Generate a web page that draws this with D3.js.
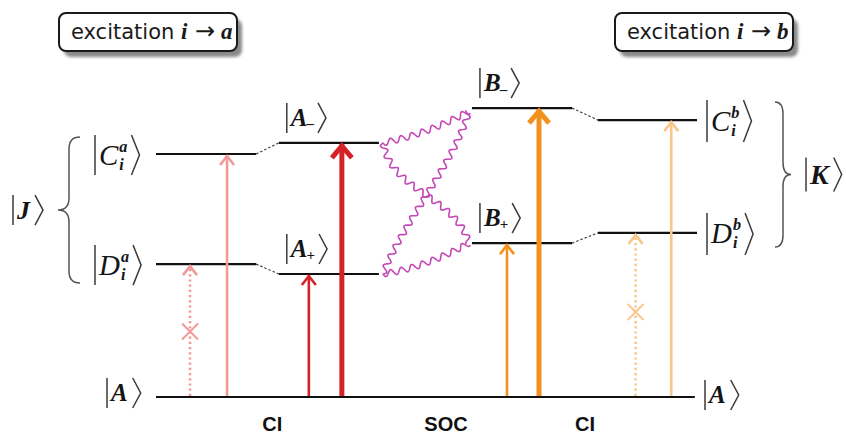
<!DOCTYPE html>
<html>
<head>
<meta charset="utf-8">
<script src="https://cdn.jsdelivr.net/npm/d3@7"></script>
<style>
	body { margin: 0; background: #fff; }
	svg { display: block; }
</style>
</head>
<body>
<div id="chart"></div>
<script>
// states: id, column (-1 = ground, spans everything), energy (arbitrary units)
var levelIds    = ["A", "Cia", "Dia", "Am", "Ap", "Bm", "Bp", "Cib", "Dib"];
var levelColumn = [-1, 0, 0, 1, 1, 2, 2, 3, 3];
var levelEnergy = [0, 81, 44.3, 84.7, 41, 96.3, 51.3, 92.3, 54.7];
var ketLetter   = ["A", "C", "D", "A", "A", "B", "B", "C", "D"];
var ketSup      = ["", "a", "a", "", "", "", "", "b", "b"];
var ketSub      = ["", "i", "i", "\u2013", "+", "\u2013", "+", "i", "i"];

// excitations from the ground state
var arrowTarget = ["Dia", "Cia", "Ap", "Am", "Bp", "Bm", "Dib", "Cib"];
var arrowKind   = ["forbidden", "thin", "thin", "thick", "thin", "thick", "forbidden", "thin"];
var arrowGroup  = ["a", "a", "A", "A", "B", "B", "b", "b"];

// CI mixing (dashed) and SOC coupling (wavy)
var mixPairs = [["Cia", "Am"], ["Dia", "Ap"], ["Bm", "Cib"], ["Bp", "Dib"]];
var socPairs = [["Am", "Bm"], ["Am", "Bp"], ["Ap", "Bm"], ["Ap", "Bp"]];

var processLabels = ["CI", "SOC", "CI"];
var boxTargets = ["a", "b"];

var w = 846,
	h = 436;

var svg = d3.select("#chart")
	.append("svg")
	.attr("width", w)
	.attr("height", h);

var defs = svg.append("defs");
defs.append("filter")
	.attr("id", "shadow")
	.attr("x", "-10%").attr("y", "-20%").attr("width", "130%").attr("height", "160%")
	.append("feGaussianBlur")
	.attr("stdDeviation", 1.8);

var x = d3.scaleLinear().domain([0, 100]).range([156, 697]);
var y = d3.scaleLinear().domain([0, 100]).range([397, 97]);

var colSpan = [[0, 18.5], [22.7, 41.2], [58.4, 76.9], [81.7, 100]];
var slotFrac = [[0.34, 0.71], [0.30, 0.63], [0.35, 0.67], [0.38, 0.74]];

var colors = { a: "#f29a9a", A: "#d42328", B: "#f3911f", b: "#f9c78e" };
var serif = "'Liberation Serif', 'Times New Roman', serif";
var sans = "'DejaVu Sans', Verdana, sans-serif";

var levels = levelIds.map(function(id, i) {
	var c = levelColumn[i];
	return {
		id: id,
		col: c,
		x0: c < 0 ? x(0) : x(colSpan[c][0]),
		x1: c < 0 ? x(99.6) : x(colSpan[c][1]),
		y: y(levelEnergy[i]),
		letter: ketLetter[i],
		sup: ketSup[i],
		sub: ketSub[i]
	};
});
var byId = {};
levels.forEach(function(d) { byId[d.id] = d; });

// ---- header boxes ----
var boxX = [59, 615];
boxTargets.forEach(function(t, i) {
	var g = svg.append("g").attr("transform", "translate(" + boxX[i] + ",13)");
	g.append("rect")
		.attr("x", 5).attr("y", 6)
		.attr("width", 178).attr("height", 38).attr("rx", 7)
		.attr("fill", "#8a8a8a")
		.attr("filter", "url(#shadow)");
	g.append("rect")
		.attr("width", 178).attr("height", 38).attr("rx", 7)
		.attr("fill", "#fff")
		.attr("stroke", "#1a1a1a")
		.attr("stroke-width", 2);
	var txt = g.append("text")
		.attr("x", 12).attr("y", 26)
		.attr("fill", "#1a1a1a");
	txt.append("tspan").attr("font-family", sans).attr("font-size", 21).text("excitation ");
	txt.append("tspan").attr("font-family", serif).attr("font-size", 23)
		.attr("font-style", "italic").attr("font-weight", "bold").text("i");
	txt.append("tspan").attr("font-family", sans).attr("font-size", 24).text(" \u2192");
	txt.append("tspan").attr("font-family", serif).attr("font-size", 23)
		.attr("font-style", "italic").attr("font-weight", "bold").text(" " + t);
});

// ---- mixing connectors ----
svg.append("g")
	.selectAll("line")
	.data(mixPairs)
	.enter()
	.append("line")
	.attr("x1", function(d) { return byId[d[0]].x1; })
	.attr("y1", function(d) { return byId[d[0]].y; })
	.attr("x2", function(d) { return byId[d[1]].x0; })
	.attr("y2", function(d) { return byId[d[1]].y; })
	.attr("stroke", "#444")
	.attr("stroke-width", 1.2)
	.attr("stroke-dasharray", "2.5,2");

// ---- SOC wavy lines ----
function wavyPath(pts, amp, wl) {
	// pts: bezier control points (3 = quadratic, 4 = cubic)
	var n = 240, raw = [];
	for (var k = 0; k <= n; k++) {
		var t = k / n, u = 1 - t, px, py;
		if (pts.length === 3) {
			px = u*u*pts[0][0] + 2*u*t*pts[1][0] + t*t*pts[2][0];
			py = u*u*pts[0][1] + 2*u*t*pts[1][1] + t*t*pts[2][1];
		} else {
			px = u*u*u*pts[0][0] + 3*u*u*t*pts[1][0] + 3*u*t*t*pts[2][0] + t*t*t*pts[3][0];
			py = u*u*u*pts[0][1] + 3*u*u*t*pts[1][1] + 3*u*t*t*pts[2][1] + t*t*t*pts[3][1];
		}
		raw.push([px, py]);
	}
	var s = 0, out = [];
	for (var k = 0; k <= n; k++) {
		var a = raw[Math.max(0, k - 1)], b = raw[Math.min(n, k + 1)];
		if (k > 0) s += Math.hypot(raw[k][0] - raw[k-1][0], raw[k][1] - raw[k-1][1]);
		var dx = b[0] - a[0], dy = b[1] - a[1], len = Math.hypot(dx, dy) || 1;
		var off = amp * Math.sin(2 * Math.PI * s / wl);
		out.push([raw[k][0] - dy / len * off, raw[k][1] + dx / len * off]);
	}
	return d3.line()(out);
}

var socG = svg.append("g");
socPairs.forEach(function(p) {
	var a = byId[p[0]], b = byId[p[1]];
	var p0 = [a.x1 + 4, a.y], p3 = [b.x0 - 3, b.y + (b.id === "Bm" ? 3 : 0)];
	var pts;
	if (p[0] === "Am" && p[1] === "Bm") pts = [p0, [428, 134], p3];
	else if (p[0] === "Ap" && p[1] === "Bp") pts = [p0, [424, 268], p3];
	else if (p[0] === "Am") pts = [p0, [392, 192], [455, 196], p3];
	else pts = [p0, [402, 224], [455, 162], p3];
	socG.append("path")
		.attr("d", wavyPath(pts, 3, 11))
		.attr("fill", "none")
		.attr("stroke", "#c447b5")
		.attr("stroke-width", 1.6);
});

// ---- level lines ----
svg.append("g")
	.selectAll("line")
	.data(levels)
	.enter()
	.append("line")
	.attr("x1", function(d) { return d.x0; })
	.attr("x2", function(d) { return d.x1; })
	.attr("y1", function(d) { return d.y; })
	.attr("y2", function(d) { return d.y; })
	.attr("stroke", "#111")
	.attr("stroke-width", 2.2);

// ---- excitation arrows ----
var slotCount = [0, 0, 0, 0];
var arrows = arrowTarget.map(function(t, i) {
	var lv = byId[t];
	var slot = slotCount[lv.col]++;
	var span = colSpan[lv.col];
	var xu = span[0] + (span[1] - span[0]) * slotFrac[lv.col][slot];
	return { x: x(xu), tip: lv.y, kind: arrowKind[i], color: colors[arrowGroup[i]] };
});

var arrowG = svg.append("g").selectAll("g")
	.data(arrows)
	.enter()
	.append("g");

arrowG.append("line")
	.attr("x1", function(d) { return d.x; })
	.attr("x2", function(d) { return d.x; })
	.attr("y1", y(0) - 1)
	.attr("y2", function(d) { return d.tip + (d.kind === "forbidden" ? 4 : 1); })
	.attr("stroke", function(d) { return d.color; })
	.attr("stroke-width", function(d) { return d.kind === "thick" ? 5 : 2.6; })
	.attr("stroke-dasharray", function(d) { return d.kind === "forbidden" ? "2.2,3" : null; });

arrowG.append("path")
	.attr("d", function(d) {
		var hw = d.kind === "thick" ? 10 : 7,
			hh = d.kind === "thick" ? 12 : 9,
			t = d.tip + (d.kind === "thick" ? 3 : 2);
		return "M" + (d.x - hw) + "," + (t + hh) + "L" + d.x + "," + t + "L" + (d.x + hw) + "," + (t + hh);
	})
	.attr("fill", "none")
	.attr("stroke", function(d) { return d.color; })
	.attr("stroke-width", function(d) { return d.kind === "thick" ? 5 : 2.6; })
	.attr("stroke-linejoin", "miter");

// crosses on the forbidden transitions
arrowG.filter(function(d) { return d.kind === "forbidden"; })
	.append("path")
	.attr("d", function(d) {
		var cy = (y(0) + d.tip) / 2 + (d.tip > 250 ? 1 : -3), r = 8;
		return "M" + (d.x - r) + "," + (cy - r) + "L" + (d.x + r) + "," + (cy + r) +
			"M" + (d.x + r) + "," + (cy - r) + "L" + (d.x - r) + "," + (cy + r);
	})
	.attr("stroke", function(d) { return d.color; })
	.attr("stroke-width", 2);

// ---- ket labels ----
function ket(g, bx, cy, hgt, letter, sup, sub, opt) {
	opt = opt || {};
	var size = opt.size || 24;
	var kg = g.append("g");
	kg.append("line")
		.attr("x1", bx).attr("x2", bx)
		.attr("y1", cy - hgt / 2).attr("y2", cy + hgt / 2)
		.attr("stroke", "#3a3a3a").attr("stroke-width", 1.5);
	var main = kg.append("text")
		.attr("x", bx + 4).attr("y", cy + size * 0.33)
		.attr("font-family", serif)
		.attr("font-style", "italic")
		.attr("font-weight", opt.bold ? "bold" : "normal")
		.attr("font-size", size)
		.attr("fill", "#151515")
		.text(letter);
	var mw = main.node().getComputedTextLength();
	var ex = bx + 4 + mw + 1, extra = 0;
	if (sup) {
		var st = kg.append("text")
			.attr("x", ex).attr("y", cy - size * 0.12)
			.attr("font-family", serif).attr("font-style", "italic").attr("font-weight", "bold")
			.attr("font-size", size * 0.56).attr("fill", "#151515").text(sup);
		extra = Math.max(extra, st.node().getComputedTextLength());
	}
	if (sub) {
		var isSign = sub === "+" || sub === "\u2013";
		var sb = kg.append("text")
			.attr("x", ex - (isSign ? 2 : 0))
			.attr("y", cy + size * (isSign ? 0.42 : 0.5))
			.attr("font-family", serif).attr("font-style", isSign ? "normal" : "italic")
			.attr("font-weight", "bold")
			.attr("font-size", size * (isSign ? 0.6 : 0.56)).attr("fill", "#151515").text(sub);
		extra = Math.max(extra, sb.node().getComputedTextLength() - (isSign ? 2 : 0));
	}
	var rx = ex + extra + 4;
	kg.append("path")
		.attr("d", "M" + rx + "," + (cy - hgt / 2) + "L" + (rx + 8) + "," + cy + "L" + rx + "," + (cy + hgt / 2))
		.attr("fill", "none")
		.attr("stroke", "#3a3a3a").attr("stroke-width", 1.5);
}

var labelG = svg.append("g");
levels.forEach(function(d) {
	if (d.col < 0) {
		ket(labelG, 107, d.y - 4, 30, d.letter, "", "", { size: 25, bold: true });
		ket(labelG, 705, d.y - 2, 30, d.letter, "", "", { size: 25, bold: true });
	} else if (d.col === 0) {
		ket(labelG, 95, d.y + 1, 40, d.letter, d.sup, d.sub, { size: 29 });
	} else if (d.col === 3) {
		ket(labelG, d.x1 + 10, d.y + 1, 42, d.letter, d.sup, d.sub, { size: 29 });
	} else {
		ket(labelG, d.x0 + 8, d.y - 25, 30, d.letter, d.sup, d.sub, { size: 25, bold: true });
	}
});

// ---- braces for |J> and |K> ----
function brace(xs, y1, y2, w, s) {
	var ym = (y1 + y2) / 2, r = 12;
	return "M" + (xs + w * s) + "," + y1 +
		"Q" + xs + "," + y1 + " " + xs + "," + (y1 + r) +
		"L" + xs + "," + (ym - r) +
		"Q" + xs + "," + ym + " " + (xs - w * s) + "," + ym +
		"Q" + xs + "," + ym + " " + xs + "," + (ym + r) +
		"L" + xs + "," + (y2 - r) +
		"Q" + xs + "," + y2 + " " + (xs + w * s) + "," + y2;
}
var jTop = byId.Cia.y - 17, jBot = byId.Dia.y + 19;
var kTop = byId.Cib.y - 18, kBot = byId.Dib.y + 14;
svg.append("path").attr("d", brace(69, jTop, jBot, 11, 1))
	.attr("fill", "none").attr("stroke", "#555").attr("stroke-width", 1.5);
svg.append("path").attr("d", brace(783, kTop, kBot, 8, -1))
	.attr("fill", "none").attr("stroke", "#555").attr("stroke-width", 1.5);
ket(labelG, 13, (jTop + jBot) / 2, 30, "J", "", "", { size: 26, bold: true });
ket(labelG, 806, (kTop + kBot) / 2, 34, "K", "", "", { size: 28, bold: true });

// ---- process labels ----
var processX = [21.5, 53.6, 79.3];
svg.append("g")
	.selectAll("text")
	.data(processLabels)
	.enter()
	.append("text")
	.attr("x", function(d, i) { return x(processX[i]); })
	.attr("y", 431)
	.attr("text-anchor", "middle")
	.attr("font-family", "'Liberation Sans', Arial, sans-serif")
	.attr("font-weight", "bold")
	.attr("font-size", 20)
	.attr("fill", "#111")
	.text(function(d) { return d; });
</script>
</body>
</html>
